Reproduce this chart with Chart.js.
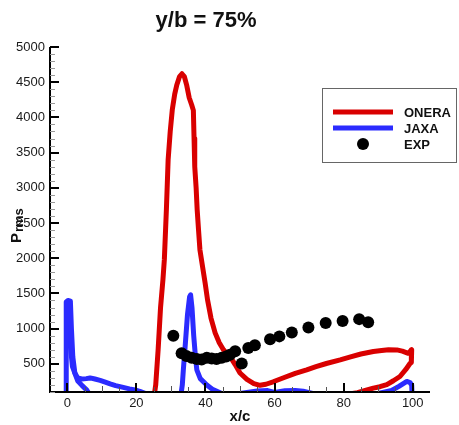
<!DOCTYPE html>
<html>
<head>
<meta charset="utf-8">
<script src="https://cdn.jsdelivr.net/npm/chart.js@4.4.1/dist/chart.umd.min.js"></script>
<style>
html,body{margin:0;padding:0;background:#fff;}
#wrap{width:459px;height:425px;position:relative;}
</style>
</head>
<body>
<div id="wrap"><canvas id="c"></canvas></div>
<script>
// ---- data ----
const chartTitle = 'y/b = 75%';
const xTitle = 'x/c';
const yTitleMain = 'P';
const yTitleSub = 'rms';
const seriesNames = ['ONERA', 'JAXA', 'EXP'];

const xTickLabels = [0, 20, 40, 60, 80, 100];
const yTickLabels = [500, 1000, 1500, 2000, 2500, 3000, 3500, 4000, 4500, 5000];

const oneraX = [25.2, 25.6, 26.3, 27.0, 27.7, 28.1, 28.7, 29.2, 29.8, 30.4, 31.1, 31.7, 32.5, 33.2, 33.9, 34.6, 35.3, 36.0, 36.5, 36.7, 36.9, 37.3, 37.6, 38.0, 38.4, 39.9, 40.6, 41.6, 42.8, 44.0, 45.2, 46.3, 47.1, 48.6, 50.0, 52.0, 54.0, 55.8, 57.5, 59.6, 63.0, 66.0, 69.3, 72.0, 75.0, 79.0, 82.0, 85.0, 88.6, 91.0, 93.0, 95.4, 97.0, 98.7, 99.7, 99.7, 99.5, 99.2, 98.0, 96.3, 94.4, 92.5, 90.5, 88.6, 86.5, 84.0, 80.0];
const oneraY = [60, 200, 700, 1300, 1700, 1980, 2700, 3400, 3800, 4110, 4330, 4460, 4580, 4620, 4580, 4450, 4280, 4180, 4100, 3700, 3300, 3000, 2690, 2400, 2120, 1650, 1410, 1150, 940, 800, 700, 640, 605, 490, 370, 280, 220, 195, 210, 245, 310, 365, 415, 460, 505, 557, 600, 640, 676, 690, 700, 698, 680, 650, 700, 600, 520, 505, 420, 320, 260, 205, 175, 155, 125, 90, 60];

const jaxaLeX = [-0.3, -0.3, -0.3, 0.2, 0.9, 1.2, 1.6, 2.2, 3.0, 4.2, 5.5, 6.6, 8.0, 9.5, 11.0, 12.4, 14.0, 16.2, 18.0, 19.6, 21.0, 22.5];
const jaxaLeY = [60, 700, 1380, 1400, 1390, 1000, 600, 370, 300, 285, 290, 300, 285, 265, 240, 215, 190, 165, 145, 130, 110, 80];

const jaxaLe2X = [0.4, 0.8, 1.5, 3.0, 4.3, 5.6, 6.5];
const jaxaLe2Y = [1350, 800, 460, 260, 190, 130, 60];

const jaxaMidX = [32.9, 33.3, 33.6, 34.2, 34.8, 35.4, 35.7, 36.1, 36.6, 37.1, 37.5, 38.5, 40.4, 42.0, 43.3, 45.0, 50.0, 55.0, 58.0, 60.0, 63.0, 66.0, 68.3, 71.0, 80.0, 90.0, 93.9, 96.0, 98.3, 99.2, 99.7, 99.8];
const jaxaMidY = [60, 200, 415, 800, 1200, 1450, 1480, 1300, 900, 600, 415, 290, 200, 140, 110, 70, 80, 115, 120, 95, 118, 122, 112, 80, 70, 80, 122, 180, 250, 235, 200, 60];

const expX = [30.7, 33.1, 34.5, 36.0, 37.5, 38.9, 40.4, 41.8, 43.2, 44.7, 46.0, 47.1, 48.6, 50.5, 52.4, 54.3, 58.7, 61.4, 65.0, 69.8, 74.8, 79.7, 84.5, 87.1];
const expY = [900, 650, 610, 585, 570, 560, 585, 575, 570, 585, 605, 630, 680, 505, 725, 765, 850, 890, 945, 1015, 1080, 1110, 1135, 1090];

// ---- styles ----
const RED = '#d90000';
const BLUE = '#2b2bff';
const FONT = '"Liberation Sans", Arial, Helvetica, sans-serif';

const pts = (xs, ys) => xs.map((x, i) => ({x: x, y: ys[i]}));

const lineDs = (label, data, color, order) => ({
  label, data, borderColor: color, backgroundColor: color, borderWidth: 5,
  showLine: true, pointRadius: 0, pointHoverRadius: 0, tension: 0,
  borderJoinStyle: 'round', borderCapStyle: 'round', clip: 0, order
});

const decor = {
  id: 'decor',
  afterDraw(chart) {
    const ctx = chart.ctx;
    const a = chart.chartArea;
    const xs = chart.scales.x, ys = chart.scales.y;
    ctx.save();
    // axes
    ctx.strokeStyle = '#000';
    ctx.lineWidth = 2;
    ctx.beginPath();
    ctx.moveTo(a.left, a.top);
    ctx.lineTo(a.left, a.bottom);
    ctx.lineTo(a.right, a.bottom);
    ctx.stroke();
    // y minor ticks
    ctx.strokeStyle = '#9a9a9a';
    ctx.lineWidth = 1;
    for (let v = ys.min; v <= ys.max; v += 100) {
      if (v % 500 === 0) continue;
      const p = Math.round(ys.getPixelForValue(v)) + 0.5;
      ctx.beginPath(); ctx.moveTo(a.left, p); ctx.lineTo(a.left + 5, p); ctx.stroke();
    }
    // x minor ticks
    ctx.strokeStyle = '#555';
    for (let v = 5; v < xs.max; v += 10) {
      const p = Math.round(xs.getPixelForValue(v)) + 0.5;
      ctx.beginPath(); ctx.moveTo(p, a.bottom); ctx.lineTo(p, a.bottom - 5); ctx.stroke();
    }
    for (let v = 10; v < xs.max; v += 20) {
      const p = Math.round(xs.getPixelForValue(v)) + 0.5;
      ctx.beginPath(); ctx.moveTo(p, a.bottom); ctx.lineTo(p, a.bottom - 6); ctx.stroke();
    }
    // major ticks
    ctx.strokeStyle = '#000';
    ctx.lineWidth = 2;
    yTickLabels.forEach(v => {
      const p = Math.round(ys.getPixelForValue(v));
      ctx.beginPath(); ctx.moveTo(a.left, p); ctx.lineTo(a.left + 9, p); ctx.stroke();
    });
    xTickLabels.forEach(v => {
      const p = Math.round(xs.getPixelForValue(v));
      ctx.beginPath(); ctx.moveTo(p, a.bottom); ctx.lineTo(p, a.bottom - 9); ctx.stroke();
    });
    // title
    ctx.fillStyle = '#111';
    ctx.textAlign = 'center';
    ctx.textBaseline = 'alphabetic';
    ctx.font = 'bold 22px ' + FONT;
    ctx.fillText(chartTitle, 206, 27);
    // x title
    ctx.font = 'bold 15px ' + FONT;
    ctx.fillText(xTitle, 240, 421);
    // y title (rotated)
    ctx.save();
    ctx.translate(21, 243);
    ctx.rotate(-Math.PI / 2);
    ctx.textAlign = 'left';
    ctx.font = 'bold 15px ' + FONT;
    ctx.fillText(yTitleMain, 0, 0);
    const pw = ctx.measureText(yTitleMain).width;
    ctx.font = 'bold 13px ' + FONT;
    ctx.fillText(yTitleSub, pw + 1, 2);
    ctx.restore();
    // legend
    const lx = 322, ly = 88, lw = 134, lh = 74;
    ctx.fillStyle = '#fff';
    ctx.fillRect(lx, ly, lw, lh);
    ctx.strokeStyle = '#666';
    ctx.lineWidth = 1;
    ctx.strokeRect(lx + 0.5, ly + 0.5, lw, lh);
    const rows = [112, 128, 144];
    ctx.lineWidth = 5;
    ctx.strokeStyle = RED;
    ctx.beginPath(); ctx.moveTo(333, rows[0]); ctx.lineTo(393, rows[0]); ctx.stroke();
    ctx.strokeStyle = BLUE;
    ctx.beginPath(); ctx.moveTo(333, rows[1]); ctx.lineTo(393, rows[1]); ctx.stroke();
    ctx.fillStyle = '#000';
    ctx.beginPath(); ctx.arc(363, rows[2], 6, 0, Math.PI * 2); ctx.fill();
    ctx.font = 'bold 13px ' + FONT;
    ctx.textAlign = 'left';
    ctx.textBaseline = 'middle';
    ctx.fillStyle = '#111';
    seriesNames.forEach((n, i) => ctx.fillText(n, 404, rows[i] + 1));
    ctx.restore();
  }
};

new Chart(document.getElementById('c'), {
  type: 'scatter',
  data: {
    datasets: [
      {label: 'EXP', data: pts(expX, expY), pointRadius: 6, pointHoverRadius: 6, backgroundColor: '#000', borderColor: '#000', borderWidth: 0, showLine: false, order: 0},
      lineDs('ONERA', pts(oneraX, oneraY), RED, 1),
      lineDs('JAXA', pts(jaxaLeX, jaxaLeY), BLUE, 2),
      lineDs('JAXA2', pts(jaxaLe2X, jaxaLe2Y), BLUE, 2),
      lineDs('JAXA3', pts(jaxaMidX, jaxaMidY), BLUE, 2)
    ]
  },
  options: {
    responsive: true,
    maintainAspectRatio: false,
    animation: false,
    events: [],
    layout: {padding: {top: 47, right: 29, bottom: 0, left: 0}},
    plugins: {legend: {display: false}, tooltip: {enabled: false}, title: {display: false}},
    scales: {
      x: {
        type: 'linear', min: -5, max: 105,
        grid: {display: false, drawTicks: false},
        border: {display: false},
        afterBuildTicks: s => { s.ticks = xTickLabels.map(v => ({value: v})); },
        afterFit: s => { s.height = 33; },
        ticks: {padding: 4, color: '#1a1a1a', font: {family: FONT, size: 13}, maxRotation: 0, callback: v => String(v)}
      },
      y: {
        type: 'linear', min: 100, max: 5000,
        grid: {display: false, drawTicks: false},
        border: {display: false},
        afterBuildTicks: s => { s.ticks = yTickLabels.map(v => ({value: v})); },
        afterFit: s => { s.width = 50; },
        ticks: {padding: 5, color: '#1a1a1a', font: {family: FONT, size: 13}, callback: v => String(v)}
      }
    }
  },
  plugins: [decor]
});
</script>
</body>
</html>
